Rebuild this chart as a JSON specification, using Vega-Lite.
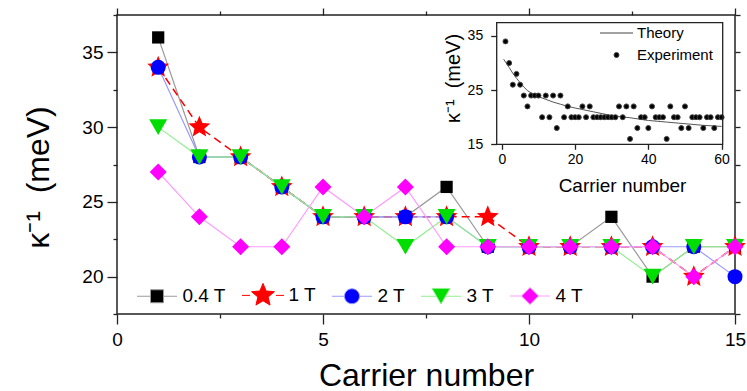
{
  "$schema": "https://vega.github.io/schema/vega-lite/v6.json",
  "width": 618,
  "height": 299,
  "autosize": {"type": "none"},
  "padding": {"left": 117, "top": 15, "right": 12, "bottom": 77},
  "background": "white",
  "config": {
    "font": "Liberation Sans",
    "view": {"stroke": "#222222", "strokeWidth": 1.5},
    "axis": {"labelColor": "black", "titleColor": "black", "tickColor": "#222222", "tickWidth": 1.3, "titleFontWeight": "normal", "grid": false, "domain": false, "labelFlush": false, "labelOverlap": false},
    "legend": {"labelColor": "black", "labelFont": "Liberation Sans"}
  },
  "datasets": {
    "main": [
      {"series": "0.4 T", "n": 1, "k": 36}, {"series": "0.4 T", "n": 2, "k": 28}, {"series": "0.4 T", "n": 3, "k": 28}, {"series": "0.4 T", "n": 4, "k": 26}, {"series": "0.4 T", "n": 5, "k": 24}, {"series": "0.4 T", "n": 6, "k": 24}, {"series": "0.4 T", "n": 7, "k": 24}, {"series": "0.4 T", "n": 8, "k": 26}, {"series": "0.4 T", "n": 9, "k": 22}, {"series": "0.4 T", "n": 10, "k": 22}, {"series": "0.4 T", "n": 11, "k": 22}, {"series": "0.4 T", "n": 12, "k": 24}, {"series": "0.4 T", "n": 13, "k": 20}, {"series": "0.4 T", "n": 14, "k": 22}, {"series": "0.4 T", "n": 15, "k": 22},
      {"series": "1 T", "n": 1, "k": 34}, {"series": "1 T", "n": 2, "k": 30}, {"series": "1 T", "n": 3, "k": 28}, {"series": "1 T", "n": 4, "k": 26}, {"series": "1 T", "n": 5, "k": 24}, {"series": "1 T", "n": 6, "k": 24}, {"series": "1 T", "n": 7, "k": 24}, {"series": "1 T", "n": 8, "k": 24}, {"series": "1 T", "n": 9, "k": 24}, {"series": "1 T", "n": 10, "k": 22}, {"series": "1 T", "n": 11, "k": 22}, {"series": "1 T", "n": 12, "k": 22}, {"series": "1 T", "n": 13, "k": 22}, {"series": "1 T", "n": 14, "k": 20}, {"series": "1 T", "n": 15, "k": 22},
      {"series": "2 T", "n": 1, "k": 34}, {"series": "2 T", "n": 2, "k": 28}, {"series": "2 T", "n": 3, "k": 28}, {"series": "2 T", "n": 4, "k": 26}, {"series": "2 T", "n": 5, "k": 24}, {"series": "2 T", "n": 6, "k": 24}, {"series": "2 T", "n": 7, "k": 24}, {"series": "2 T", "n": 8, "k": 24}, {"series": "2 T", "n": 9, "k": 22}, {"series": "2 T", "n": 10, "k": 22}, {"series": "2 T", "n": 11, "k": 22}, {"series": "2 T", "n": 12, "k": 22}, {"series": "2 T", "n": 13, "k": 22}, {"series": "2 T", "n": 14, "k": 22}, {"series": "2 T", "n": 15, "k": 20},
      {"series": "3 T", "n": 1, "k": 30}, {"series": "3 T", "n": 2, "k": 28}, {"series": "3 T", "n": 3, "k": 28}, {"series": "3 T", "n": 4, "k": 26}, {"series": "3 T", "n": 5, "k": 24}, {"series": "3 T", "n": 6, "k": 24}, {"series": "3 T", "n": 7, "k": 22}, {"series": "3 T", "n": 8, "k": 24}, {"series": "3 T", "n": 9, "k": 22}, {"series": "3 T", "n": 10, "k": 22}, {"series": "3 T", "n": 11, "k": 22}, {"series": "3 T", "n": 12, "k": 22}, {"series": "3 T", "n": 13, "k": 20}, {"series": "3 T", "n": 14, "k": 22}, {"series": "3 T", "n": 15, "k": 22},
      {"series": "4 T", "n": 1, "k": 27}, {"series": "4 T", "n": 2, "k": 24}, {"series": "4 T", "n": 3, "k": 22}, {"series": "4 T", "n": 4, "k": 22}, {"series": "4 T", "n": 5, "k": 26}, {"series": "4 T", "n": 6, "k": 24}, {"series": "4 T", "n": 7, "k": 26}, {"series": "4 T", "n": 8, "k": 22}, {"series": "4 T", "n": 9, "k": 22}, {"series": "4 T", "n": 10, "k": 22}, {"series": "4 T", "n": 11, "k": 22}, {"series": "4 T", "n": 12, "k": 22}, {"series": "4 T", "n": 13, "k": 22}, {"series": "4 T", "n": 14, "k": 20}, {"series": "4 T", "n": 15, "k": 22}
    ],
    "exp": [
      {"n": 1, "k": 34, "kind": "Experiment"}, {"n": 2, "k": 30, "kind": "Experiment"}, {"n": 3, "k": 26, "kind": "Experiment"}, {"n": 4, "k": 28, "kind": "Experiment"}, {"n": 5, "k": 26, "kind": "Experiment"}, {"n": 6, "k": 24, "kind": "Experiment"}, {"n": 7, "k": 22, "kind": "Experiment"}, {"n": 8, "k": 24, "kind": "Experiment"}, {"n": 9, "k": 24, "kind": "Experiment"}, {"n": 10, "k": 24, "kind": "Experiment"},
      {"n": 11, "k": 20, "kind": "Experiment"}, {"n": 12, "k": 24, "kind": "Experiment"}, {"n": 13, "k": 20, "kind": "Experiment"}, {"n": 14, "k": 24, "kind": "Experiment"}, {"n": 15, "k": 18, "kind": "Experiment"}, {"n": 16, "k": 24, "kind": "Experiment"}, {"n": 17, "k": 20, "kind": "Experiment"}, {"n": 18, "k": 22, "kind": "Experiment"}, {"n": 19, "k": 20, "kind": "Experiment"}, {"n": 20, "k": 20, "kind": "Experiment"},
      {"n": 21, "k": 20, "kind": "Experiment"}, {"n": 22, "k": 22, "kind": "Experiment"}, {"n": 23, "k": 20, "kind": "Experiment"}, {"n": 24, "k": 22, "kind": "Experiment"}, {"n": 25, "k": 20, "kind": "Experiment"}, {"n": 26, "k": 20, "kind": "Experiment"}, {"n": 27, "k": 20, "kind": "Experiment"}, {"n": 28, "k": 20, "kind": "Experiment"}, {"n": 29, "k": 20, "kind": "Experiment"}, {"n": 30, "k": 20, "kind": "Experiment"},
      {"n": 31, "k": 20, "kind": "Experiment"}, {"n": 32, "k": 22, "kind": "Experiment"}, {"n": 33, "k": 20, "kind": "Experiment"}, {"n": 34, "k": 22, "kind": "Experiment"}, {"n": 35, "k": 16, "kind": "Experiment"}, {"n": 36, "k": 22, "kind": "Experiment"}, {"n": 37, "k": 18, "kind": "Experiment"}, {"n": 38, "k": 20, "kind": "Experiment"}, {"n": 39, "k": 20, "kind": "Experiment"}, {"n": 40, "k": 18, "kind": "Experiment"},
      {"n": 41, "k": 22, "kind": "Experiment"}, {"n": 42, "k": 20, "kind": "Experiment"}, {"n": 43, "k": 20, "kind": "Experiment"}, {"n": 44, "k": 20, "kind": "Experiment"}, {"n": 45, "k": 16, "kind": "Experiment"}, {"n": 46, "k": 22, "kind": "Experiment"}, {"n": 47, "k": 20, "kind": "Experiment"}, {"n": 48, "k": 20, "kind": "Experiment"}, {"n": 49, "k": 18, "kind": "Experiment"}, {"n": 50, "k": 22, "kind": "Experiment"},
      {"n": 51, "k": 18, "kind": "Experiment"}, {"n": 52, "k": 20, "kind": "Experiment"}, {"n": 53, "k": 20, "kind": "Experiment"}, {"n": 54, "k": 20, "kind": "Experiment"}, {"n": 55, "k": 18, "kind": "Experiment"}, {"n": 56, "k": 20, "kind": "Experiment"}, {"n": 57, "k": 20, "kind": "Experiment"}, {"n": 58, "k": 18, "kind": "Experiment"}, {"n": 59, "k": 20, "kind": "Experiment"}, {"n": 60, "k": 20, "kind": "Experiment"}
    ],
    "theory": [
      {"n": 0.5, "k": 30.7}, {"n": 1, "k": 30.2}, {"n": 2, "k": 29.2}, {"n": 3, "k": 28.1}, {"n": 4, "k": 27.2}, {"n": 5, "k": 26.4}, {"n": 6, "k": 25.6}, {"n": 7, "k": 24.9}, {"n": 8, "k": 24.5}, {"n": 9, "k": 24.1}, {"n": 10, "k": 23.8}, {"n": 12, "k": 23.3}, {"n": 14, "k": 22.8}, {"n": 16, "k": 22.4}, {"n": 18, "k": 22.0}, {"n": 20, "k": 21.7}, {"n": 25, "k": 21.0}, {"n": 30, "k": 20.3}, {"n": 35, "k": 19.9}, {"n": 40, "k": 19.4}, {"n": 45, "k": 19.1}, {"n": 50, "k": 18.8}, {"n": 55, "k": 18.5}, {"n": 60, "k": 18.3}
    ]
  },
  "layer": [
    {
      "data": {"name": "main"},
      "layer": [
        {
          "transform": [{"filter": {"field": "series", "equal": "0.4 T"}}],
          "mark": {"type": "line", "color": "#9a9a9a", "strokeWidth": 1.2},
          "encoding": {
            "x": {"field": "n", "type": "quantitative", "scale": {"domain": [0, 15], "nice": false, "zero": false},
              "axis": {"orient": "bottom", "values": [0, 2.5, 5, 7.5, 10, 12.5, 15], "labelExpr": "datum.value % 5 === 0 ? '' + datum.value : ''", "tickSize": {"condition": {"test": "datum.value % 5 === 0", "value": 10}, "value": 4}, "labelFontSize": 19, "labelPadding": 6, "title": "Carrier number", "titleFontSize": 32, "titlePadding": 11}},
            "y": {"field": "k", "type": "quantitative", "scale": {"domain": [17.5, 37.5], "nice": false, "zero": false},
              "axis": {"orient": "left", "values": [17.5, 20, 22.5, 25, 27.5, 30, 32.5, 35, 37.5], "labelExpr": "datum.value % 5 === 0 ? '' + datum.value : ''", "tickSize": {"condition": {"test": "datum.value % 5 === 0", "value": 10}, "value": 4}, "labelFontSize": 19, "labelPadding": 4, "title": "κ⁻¹\u00a0 (meV)", "titleFontSize": 32, "titlePadding": 26, "titleY": 162}}
          }
        },
        {
          "transform": [{"filter": {"field": "series", "equal": "1 T"}}],
          "mark": {"type": "line", "color": "#ff0000", "strokeWidth": 1.5, "strokeDash": [8, 5]},
          "encoding": {"x": {"field": "n", "type": "quantitative", "scale": {"domain": [0, 15], "nice": false, "zero": false}, "axis": null}, "y": {"field": "k", "type": "quantitative", "scale": {"domain": [17.5, 37.5], "nice": false, "zero": false}, "axis": null}}
        },
        {
          "transform": [{"filter": {"field": "series", "equal": "2 T"}}],
          "mark": {"type": "line", "color": "#9a9aff", "strokeWidth": 1.2},
          "encoding": {"x": {"field": "n", "type": "quantitative", "scale": {"domain": [0, 15], "nice": false, "zero": false}, "axis": null}, "y": {"field": "k", "type": "quantitative", "scale": {"domain": [17.5, 37.5], "nice": false, "zero": false}, "axis": null}}
        },
        {
          "transform": [{"filter": {"field": "series", "equal": "3 T"}}],
          "mark": {"type": "line", "color": "#90ee90", "strokeWidth": 1.2},
          "encoding": {"x": {"field": "n", "type": "quantitative", "scale": {"domain": [0, 15], "nice": false, "zero": false}, "axis": null}, "y": {"field": "k", "type": "quantitative", "scale": {"domain": [17.5, 37.5], "nice": false, "zero": false}, "axis": null}}
        },
        {
          "transform": [{"filter": {"field": "series", "equal": "4 T"}}],
          "mark": {"type": "line", "color": "#ff9cff", "strokeWidth": 1.2},
          "encoding": {"x": {"field": "n", "type": "quantitative", "scale": {"domain": [0, 15], "nice": false, "zero": false}, "axis": null}, "y": {"field": "k", "type": "quantitative", "scale": {"domain": [17.5, 37.5], "nice": false, "zero": false}, "axis": null}}
        },
        {
          "transform": [{"filter": {"field": "series", "equal": "0.4 T"}}],
          "mark": {"type": "point", "filled": true, "shape": "square", "size": 150, "color": "#000000", "opacity": 1, "strokeWidth": 0},
          "encoding": {"x": {"field": "n", "type": "quantitative", "scale": {"domain": [0, 15], "nice": false, "zero": false}, "axis": null}, "y": {"field": "k", "type": "quantitative", "scale": {"domain": [17.5, 37.5], "nice": false, "zero": false}, "axis": null}}
        },
        {
          "transform": [{"filter": {"field": "series", "equal": "1 T"}}],
          "mark": {"type": "point", "filled": true, "shape": "M0,-1L0.2645,-0.3641L0.9511,-0.309L0.428,0.139L0.5878,0.809L0,0.45L-0.5878,0.809L-0.428,0.139L-0.9511,-0.309L-0.2645,-0.3641Z", "size": 529, "color": "#ff0000", "opacity": 1, "strokeWidth": 0},
          "encoding": {"x": {"field": "n", "type": "quantitative", "scale": {"domain": [0, 15], "nice": false, "zero": false}, "axis": null}, "y": {"field": "k", "type": "quantitative", "scale": {"domain": [17.5, 37.5], "nice": false, "zero": false}, "axis": null}}
        },
        {
          "transform": [{"filter": {"field": "series", "equal": "2 T"}}],
          "mark": {"type": "point", "filled": true, "shape": "circle", "size": 225, "color": "#0000ff", "opacity": 1, "strokeWidth": 0},
          "encoding": {"x": {"field": "n", "type": "quantitative", "scale": {"domain": [0, 15], "nice": false, "zero": false}, "axis": null}, "y": {"field": "k", "type": "quantitative", "scale": {"domain": [17.5, 37.5], "nice": false, "zero": false}, "axis": null}}
        },
        {
          "transform": [{"filter": {"field": "series", "equal": "3 T"}}],
          "mark": {"type": "point", "filled": true, "shape": "triangle-down", "size": 324, "color": "#00dd00", "opacity": 1, "strokeWidth": 0},
          "encoding": {"x": {"field": "n", "type": "quantitative", "scale": {"domain": [0, 15], "nice": false, "zero": false}, "axis": null}, "y": {"field": "k", "type": "quantitative", "scale": {"domain": [17.5, 37.5], "nice": false, "zero": false}, "axis": null}}
        },
        {
          "transform": [{"filter": {"field": "series", "equal": "4 T"}}],
          "mark": {"type": "point", "filled": true, "shape": "diamond", "size": 289, "color": "#ff00ff", "opacity": 1, "strokeWidth": 0},
          "encoding": {"x": {"field": "n", "type": "quantitative", "scale": {"domain": [0, 15], "nice": false, "zero": false}, "axis": null}, "y": {"field": "k", "type": "quantitative", "scale": {"domain": [17.5, 37.5], "nice": false, "zero": false}, "axis": null}}
        },
        {
          "mark": {"type": "point", "opacity": 0},
          "encoding": {
            "x": {"field": "n", "type": "quantitative", "scale": {"domain": [0, 15], "nice": false, "zero": false},
              "axis": {"orient": "top", "values": [0, 2.5, 5, 7.5, 10, 12.5, 15], "labels": false, "title": null, "tickSize": {"condition": {"test": "datum.value % 5 === 0", "value": 7}, "value": 4}}},
            "y": {"field": "k", "type": "quantitative", "scale": {"domain": [17.5, 37.5], "nice": false, "zero": false},
              "axis": {"orient": "right", "values": [17.5, 20, 22.5, 25, 27.5, 30, 32.5, 35, 37.5], "labels": false, "title": null, "tickSize": 5}}
          }
        }
      ],
      "resolve": {"axis": {"x": "independent", "y": "independent"}}
    },
    {
      "layer": [
        {
          "data": {"name": "theory"},
          "mark": {"type": "line", "stroke": "#555555", "strokeWidth": 1},
          "encoding": {
            "x": {"field": "n", "type": "quantitative", "scale": {"domain": [-1.4, 60.3], "range": [379.7, 605.7], "nice": false, "zero": false},
              "axis": {"orient": "bottom", "offset": -169.7, "values": [0, 20, 40, 60], "tickSize": 5, "labelFontSize": 14, "labelPadding": 3, "title": "Carrier number", "titleFontSize": 19, "titlePadding": 10, "titleX": 505}},
            "y": {"field": "k", "type": "quantitative", "scale": {"domain": [15, 37.45], "range": [129.3, 7.7], "nice": false, "zero": false},
              "axis": {"orient": "left", "offset": -379.7, "values": [15, 25, 35], "tickSize": 6, "labelFontSize": 14, "labelPadding": 8, "title": "κ⁻¹\u00a0 (meV)", "titleFontSize": 20, "titlePadding": 4, "titleY": 63}}
          }
        },
        {
          "data": {"name": "exp"},
          "mark": {"type": "point", "filled": true, "opacity": 1, "fill": "black", "stroke": "#444444", "strokeWidth": 1, "size": 25},
          "encoding": {
            "x": {"field": "n", "type": "quantitative", "scale": {"domain": [-1.4, 60.3], "range": [379.7, 605.7], "nice": false, "zero": false}, "axis": null},
            "y": {"field": "k", "type": "quantitative", "scale": {"domain": [15, 37.45], "range": [129.3, 7.7], "nice": false, "zero": false}, "axis": null},
            "shape": {"field": "kind", "type": "nominal", "scale": {"domain": ["Theory", "Experiment"], "range": ["M-6.6,0H6.6", "circle"]},
              "legend": {"orient": "none", "legendX": 483, "legendY": 10.5, "title": null, "direction": "vertical", "labelFontSize": 15, "symbolSize": 25, "symbolStrokeWidth": 1, "symbolOffset": 9, "labelOffset": 13, "rowPadding": 6, "padding": 0}}
          }
        },
        {
          "data": {"values": [{}]},
          "mark": {"type": "rect", "fill": "transparent", "stroke": "#222222", "strokeWidth": 1.3},
          "encoding": {
            "x": {"datum": -1.4, "type": "quantitative", "scale": {"domain": [-1.4, 60.3], "range": [379.7, 605.7], "nice": false, "zero": false}, "axis": null},
            "x2": {"datum": 60.3},
            "y": {"datum": 15, "type": "quantitative", "scale": {"domain": [15, 37.45], "range": [129.3, 7.7], "nice": false, "zero": false}, "axis": null},
            "y2": {"datum": 37.45}
          }
        }
      ],
      "resolve": {"axis": {"x": "independent", "y": "independent"}}
    },
    {
      "data": {"name": "main"},
      "mark": {"type": "point", "filled": true, "opacity": 0},
      "encoding": {
        "x": {"field": "n", "type": "quantitative", "axis": null},
        "y": {"field": "k", "type": "quantitative", "axis": null},
        "shape": {"field": "series", "type": "nominal",
          "scale": {"domain": ["0.4 T", "1 T", "2 T", "3 T", "4 T"], "range": [
            "M-4,0H-1.3M1.3,0H4M-1.3,-1.3H1.3V1.3H-1.3Z",
            "M-4.2,0H-2.6M2.6,0H4.2M0,-2.4L0.635,-0.874L2.283,-0.742L1.027,0.334L1.411,1.942L0,1.08L-1.411,1.942L-1.027,0.334L-2.283,-0.742L-0.635,-0.874Z",
            "M-4,0H-1.5M1.5,0H4M-1.5,0A1.5,1.5,0,1,0,1.5,0A1.5,1.5,0,1,0,-1.5,0Z",
            "M-4,0H-0.9M0.9,0H4M-1.8,-1.56L1.8,-1.56L0,1.56Z",
            "M-4,0H-1.7M1.7,0H4M-1.7,0L0,-1.7L1.7,0L0,1.7Z"]},
          "legend": {"orient": "none", "legendX": 20, "legendY": 270.5, "title": null, "direction": "horizontal", "labelFontSize": 19, "symbolSize": 100, "symbolStrokeWidth": 1, "symbolOpacity": 1, "symbolOffset": 10.5, "labelOffset": 16, "columnPadding": 14, "padding": 0}},
        "fill": {"field": "series", "type": "nominal", "scale": {"domain": ["0.4 T", "1 T", "2 T", "3 T", "4 T"], "range": ["#000000", "#ff0000", "#0000ff", "#00dd00", "#ff00ff"]},
          "legend": {"orient": "none", "legendX": 20, "legendY": 270.5, "title": null, "direction": "horizontal", "labelFontSize": 19, "symbolSize": 100, "symbolStrokeWidth": 1, "symbolOpacity": 1, "symbolOffset": 10.5, "labelOffset": 16, "columnPadding": 14, "padding": 0}},
        "stroke": {"field": "series", "type": "nominal", "scale": {"domain": ["0.4 T", "1 T", "2 T", "3 T", "4 T"], "range": ["#9a9a9a", "#ff0000", "#9a9aff", "#90ee90", "#ff9cff"]},
          "legend": {"orient": "none", "legendX": 20, "legendY": 270.5, "title": null, "direction": "horizontal", "labelFontSize": 19, "symbolSize": 100, "symbolStrokeWidth": 1, "symbolOpacity": 1, "symbolOffset": 10.5, "labelOffset": 16, "columnPadding": 14, "padding": 0}}
      }
    }
  ],
  "resolve": {"scale": {"x": "independent", "y": "independent", "shape": "independent", "fill": "independent", "stroke": "independent"}}
}
